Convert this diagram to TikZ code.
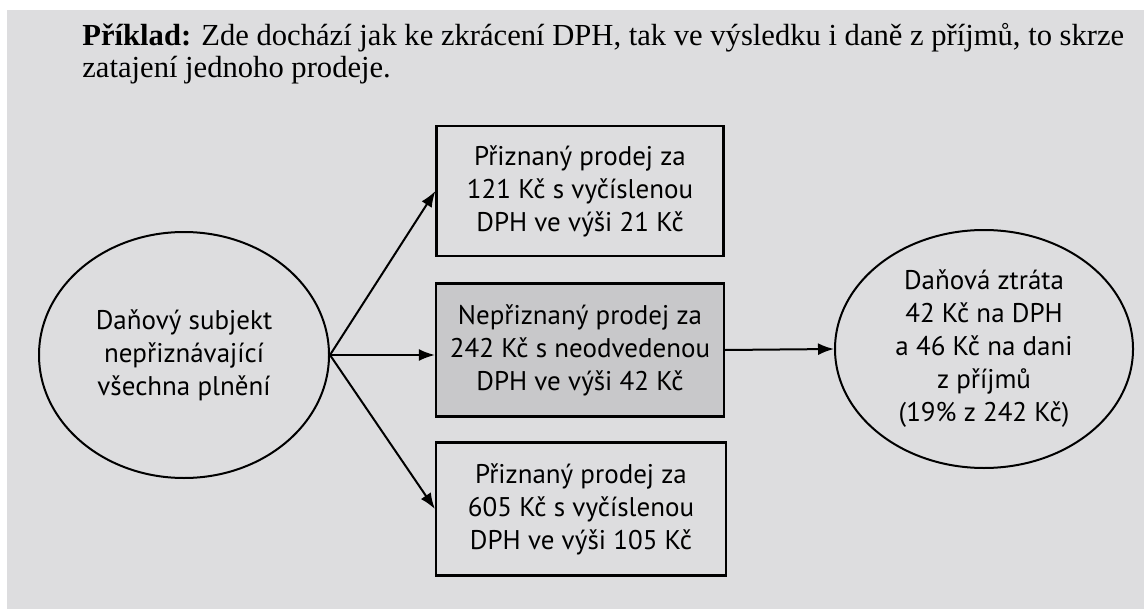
\documentclass[tikz,border=0pt]{standalone}
\usepackage{fontspec}
\setmainfont{Liberation Serif}
\newfontfamily\diagfont{PT Sans}
\usetikzlibrary{arrows.meta,shapes.geometric}
\definecolor{paper}{RGB}{221,221,223}
\definecolor{shade}{RGB}{200,200,202}

\begin{document}
\begin{tikzpicture}
		[x=0.5pt,y=-0.5pt,
		 box/.style={draw,line width=1.1pt,inner sep=0pt,align=center,font=\diagfont\fontsize{13.5}{16.5}\selectfont},
		 oval/.style={ellipse,draw,line width=1pt,inner sep=0pt,align=center,font=\diagfont\fontsize{13.5}{16.5}\selectfont},
		 arr/.style={-{Latex[length=8pt,width=6pt]},line width=1pt}]
		\fill[white] (0,0) rectangle (1144,609);
		\fill[paper] (7,10) rectangle (1144,609);

		\node[anchor=base west,align=left,inner sep=0pt,font=\fontsize{15.3}{16}\selectfont] (title) at (82,78)
			{\textbf{Příklad:} Zde dochází jak ke zkrácení DPH, tak ve výsledku i daně z příjmů, to skrze\\zatajení jednoho prodeje.};

		\node[oval,minimum width=145pt,minimum height=123pt] (subj) at (184,355) {Daňový subjekt\\nepřiznávající\\všechna plnění};
		\node[box,minimum width=143.5pt,minimum height=65pt] (prod1) at (580,191) {Přiznaný prodej za\\121 Kč s vyčíslenou\\DPH ve výši 21 Kč};
		\node[box,fill=shade,minimum width=144pt,minimum height=66.5pt] (prod2) at (580,350) {Nepřiznaný prodej za\\242 Kč s neodvedenou\\DPH ve výši 42 Kč};
		\node[box,minimum width=145pt,minimum height=66.5pt] (prod3) at (581,509) {Přiznaný prodej za\\605 Kč s vyčíslenou\\DPH ve výši 105 Kč};
		\node[oval,minimum width=149pt,minimum height=119pt] (loss) at (984,349) {Daňová ztráta\\42 Kč na DPH\\a 46 Kč na dani\\z příjmů\\(19\% z 242 Kč)};

		\draw[arr] (subj.east) -- (prod1.west);
		\draw[arr] (subj.east) -- (prod2.west |- subj.east);
		\draw[arr] (subj.east) -- (prod3.west);
		\draw[arr] (prod2.east) -- (loss.west);

	\end{tikzpicture}
\end{document}
